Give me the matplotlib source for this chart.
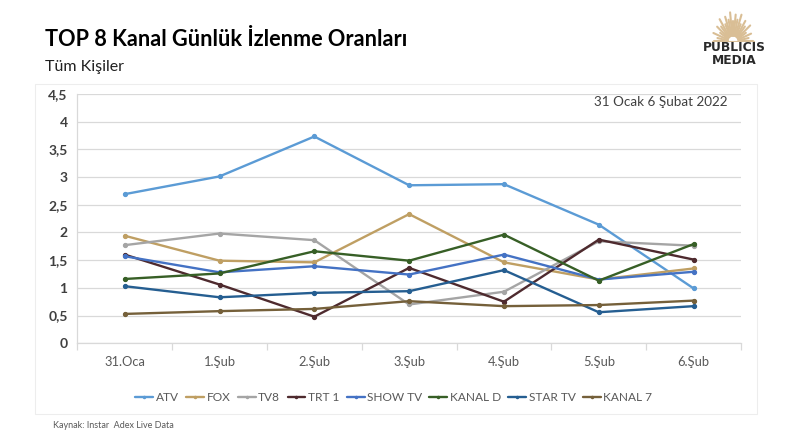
import numpy as np
import matplotlib
matplotlib.use("Agg")
import matplotlib.pyplot as plt
from matplotlib.patches import Rectangle

plt.rcParams['font.family'] = ['Lato', 'DejaVu Sans']

W, H = 789, 432
categories = ["31.Oca", "1.Şub", "2.Şub", "3.Şub", "4.Şub", "5.Şub", "6.Şub"]
atv = [2.69, 3.01, 3.73, 2.85, 2.87, 2.14, 0.99]
fox = [1.94, 1.49, 1.46, 2.33, 1.46, 1.15, 1.35]
tv8 = [1.77, 1.98, 1.86, 0.70, 0.93, 1.84, 1.76]
trt1 = [1.60, 1.06, 0.48, 1.36, 0.75, 1.87, 1.51]
show = [1.57, 1.28, 1.39, 1.24, 1.60, 1.15, 1.29]
kanald = [1.16, 1.26, 1.66, 1.49, 1.96, 1.13, 1.79]
star = [1.03, 0.83, 0.91, 0.94, 1.32, 0.56, 0.67]
kanal7 = [0.53, 0.58, 0.62, 0.76, 0.67, 0.69, 0.77]
yticks = [0, 0.5, 1, 1.5, 2, 2.5, 3, 3.5, 4, 4.5]
ylabels = ["0", "0,5", "1", "1,5", "2", "2,5", "3", "3,5", "4", "4,5"]
series = [("ATV", atv, "#5B9BD5"), ("FOX", fox, "#BF9F63"), ("TV8", tv8, "#A5A5A5"),
          ("TRT 1", trt1, "#4E2A2E"), ("SHOW TV", show, "#4472C4"),
          ("KANAL D", kanald, "#375F26"), ("STAR TV", star, "#255E91"),
          ("KANAL 7", kanal7, "#75603A")]

fig = plt.figure(figsize=(W / 100, H / 100), dpi=100, facecolor="white")

# chart frame
fig.add_artist(Rectangle((35 / W, 1 - 414 / H), (757 - 35) / W, (414 - 84) / H,
                         transform=fig.transFigure, fc="white", ec="#EDEDED", lw=0.8, zorder=-1))

ax = fig.add_axes([77.3 / W, 1 - 343.3 / H, (741 - 77.3) / W, (343.3 - 93.8) / H])
ax.patch.set_alpha(0)
ax.set_xlim(-0.5, 6.5)
ax.set_ylim(0, 4.5)
for s in ["top", "right"]:
    ax.spines[s].set_visible(False)
for s in ["left", "bottom"]:
    ax.spines[s].set_color("#D9D9D9")
    ax.spines[s].set_linewidth(0.9)
ax.set_yticks(yticks)
ax.set_yticklabels(ylabels, fontsize=10, fontweight="bold", color="#3F3F3F")
ax.tick_params(axis="y", length=0, pad=7)
ax.set_xticks(np.arange(7))
ax.set_xticklabels(categories, fontsize=9.3, color="#595959")
ax.set_xticks(np.arange(-0.5, 7), minor=True)
ax.tick_params(axis="x", which="major", length=0, pad=9)
ax.tick_params(axis="x", which="minor", length=5, color="#D9D9D9", width=0.9)
ax.grid(axis="y", color="#D9D9D9", lw=0.9)
ax.set_axisbelow(True)

for name, vals, col in series:
    ax.plot(range(7), vals, color=col, lw=1.7, marker="o", ms=2.8, label=name,
            solid_capstyle="round", clip_on=False)

ax.text(0.980, 0.968, "31 Ocak 6 Şubat 2022", transform=ax.transAxes, ha="right", va="center",
        fontsize=9.7, color="#404040")

leg = ax.legend(loc="center", bbox_to_anchor=(0.477, (343.3 - 397.5) / 249.5), ncol=8,
                frameon=False, fontsize=8.6, labelcolor="#595959", handlelength=1.5,
                handletextpad=0.2, columnspacing=0.62, borderpad=0)
for h in leg.get_lines():
    h.set_markersize(1.5)

fig.text(45 / W, 1 - 39 / H, "TOP 8 Kanal Günlük İzlenme Oranları", fontsize=15.6, fontweight="bold",
         color="black", va="center", ha="left")
fig.text(45 / W, 1 - 66.5 / H, "Tüm Kişiler", fontsize=11.5, color="#202020", va="center", ha="left")
fig.text(53 / W, 1 - 425 / H, "Kaynak: Instar  Adex Live Data", fontsize=6.5, color="#595959",
         va="center", ha="left")

# logo
lax = fig.add_axes([711 / W, 1 - 42 / H, 44 / W, 32 / H])
lax.set_xlim(-1.4, 1.4)
lax.set_ylim(-0.05, 1.95)
lax.axis("off")
ang = np.linspace(0, np.pi, 23)
rad = np.tile([1.3, 1.0, 1.2, 0.9], 6)[:23]
for a, r in zip(ang, rad):
    lax.plot([0.35 * np.cos(a), r * np.cos(a)], [0.35 * np.sin(a), r * np.sin(a) * 1.4],
             color="#D9BE95", lw=1.5, solid_capstyle="round")
lax.plot([-1.35, 1.35], [0, 0], color="#D9BE95", lw=0.8)
fig.text(734.5 / W, 1 - 47.5 / H, "PUBLICIS", family="DejaVu Sans", fontweight="bold", fontsize=8.8,
         color="#2A2A2A", ha="center", va="center")
fig.text(734.5 / W, 1 - 61 / H, "MEDIA", family="DejaVu Sans", fontweight="bold", fontsize=8.8,
         color="#2A2A2A", ha="center", va="center")

fig.savefig("out.png", dpi=100)
